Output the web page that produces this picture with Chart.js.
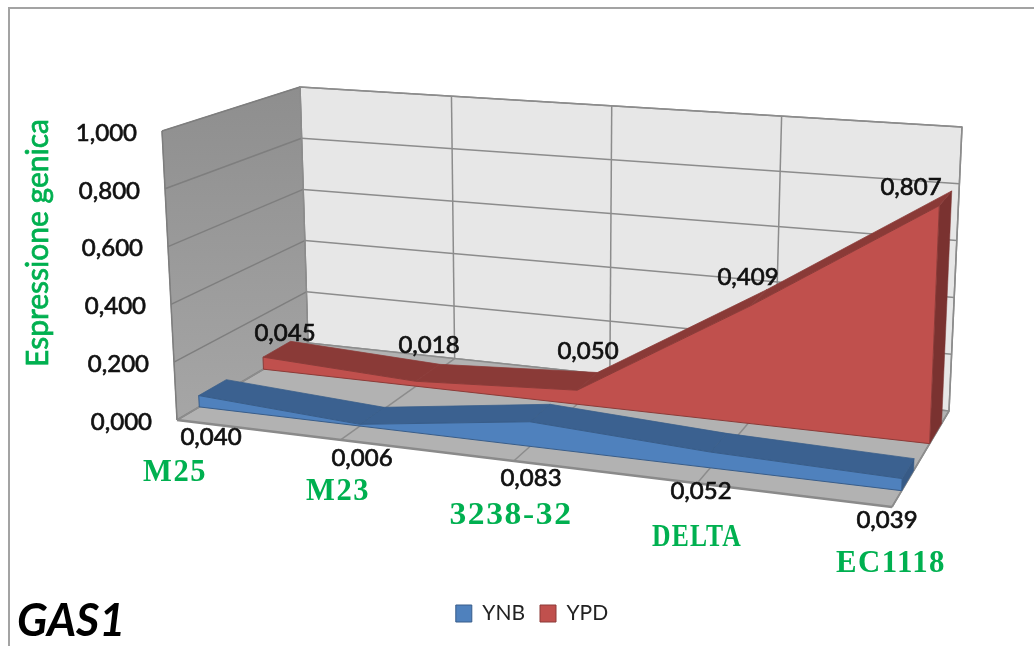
<!DOCTYPE html>
<html>
<head>
<meta charset="utf-8">
<title>GAS1</title>
<script src="https://cdn.jsdelivr.net/npm/chart.js@4"></script>
<style>
  html, body { margin: 0; background: #fff; }
  canvas { display: block; }
</style>
</head>
<body>
<canvas id="chart" width="1034" height="646"></canvas>
<script>
// Expression values, one per strain
const categories = ['M25', 'M23', '3238-32', 'DELTA', 'EC1118'];
const ynb = [0.040, 0.006, 0.083, 0.052, 0.039];
const ypd = [0.045, 0.018, 0.050, 0.409, 0.807];
const valueTicks = [0, 0.2, 0.4, 0.6, 0.8, 1];

// Box corners on screen: floor and ceiling, ordered front-left, front-right, back-right, back-left
const FLOOR = [[177, 420], [892, 507], [949, 411], [308, 343]];
const CEILING = [[162, 131], [902, 191], [962, 127], [300, 87]];
const YNB_DEPTH = [0.17, 0.38];
const YPD_DEPTH = [0.66, 0.87];
const FORESHORTEN = 0.89;

const COLORS = {
  ynbFront: '#4F81BD', ynbTop: '#3B6190', ynbSide: '#375A86', ynbEdge: '#385D8A',
  ypdFront: '#C0504D', ypdTop: '#8A3A37', ypdSide: '#7A3230', ypdEdge: '#8C3B38',
  backWall: '#E7E7E7', floor: '#B2B2B2', grid: '#8C8C8C', green: '#00B050', text: '#111'
};

const lastCat = categories.length - 1;

function quadAt(q, u, v) {
  const fx = q[0][0] + (q[1][0] - q[0][0]) * u, fy = q[0][1] + (q[1][1] - q[0][1]) * u;
  const bx = q[3][0] + (q[2][0] - q[3][0]) * u, by = q[3][1] + (q[2][1] - q[3][1]) * u;
  return [fx + (bx - fx) * v, fy + (by - fy) * v];
}

// category index + value + depth -> scene point for the chart's x/y scales
function project(cat, value, depth) {
  const t = cat / lastCat;
  const u = t * FORESHORTEN / (1 + (FORESHORTEN - 1) * t);
  const lo = quadAt(FLOOR, u, depth), hi = quadAt(CEILING, u, depth);
  return { x: lo[0] + (hi[0] - lo[0]) * value, y: lo[1] + (hi[1] - lo[1]) * value };
}

function poly(points, fill, edge, width, label) {
  return {
    label: label || '',
    data: points.concat(points[0]),
    showLine: true,
    fill: 'shape',
    backgroundColor: fill,
    borderColor: edge || fill,
    borderWidth: width === undefined ? 1 : width,
    pointRadius: 0,
    tension: 0
  };
}

function gridLine(a, b, color, width) {
  return {
    label: '',
    data: [a, b],
    showLine: true,
    fill: false,
    borderColor: color || COLORS.grid,
    borderWidth: width || 1.5,
    pointRadius: 0,
    tension: 0
  };
}

// One ribbon: front face first so it stays above its top faces
function ribbon(name, values, depth, front, top, side, edge) {
  const [d0, d1] = depth;
  const sets = [];
  const frontPts = values.map((v, i) => project(i, v, d0));
  const basePts = values.map((v, i) => project(i, 0, d0)).reverse();
  sets.push(poly(frontPts.concat(basePts), front, edge, 1, name));
  for (let i = 0; i < lastCat; i++) {
    sets.push(poly([
      project(i, values[i], d0), project(i + 1, values[i + 1], d0),
      project(i + 1, values[i + 1], d1), project(i, values[i], d1)
    ], top, edge, 0.75));
  }
  sets.push(poly([
    project(lastCat, values[lastCat], d0), project(lastCat, values[lastCat], d1),
    project(lastCat, 0, d1), project(lastCat, 0, d0)
  ], side, side, 0.5));
  return sets;
}

const canvas = document.getElementById('chart');
const ctx = canvas.getContext('2d');
const leftWallFill = ctx.createLinearGradient(0, 87, 0, 420);
leftWallFill.addColorStop(0, '#8E8E8E');
leftWallFill.addColorStop(1, '#A6A6A6');

// Chart.js paints the first dataset last, so these run front to back
const datasets = [
  ...ribbon('YNB', ynb, YNB_DEPTH, COLORS.ynbFront, COLORS.ynbTop, COLORS.ynbSide, COLORS.ynbEdge),
  ...ribbon('YPD', ypd, YPD_DEPTH, COLORS.ypdFront, COLORS.ypdTop, COLORS.ypdSide, COLORS.ypdEdge)
];
datasets.push(gridLine(project(0, 0, 0), project(lastCat, 0, 0), '#8A8A8A', 2.5));
categories.forEach((c, i) => {
  datasets.push(gridLine(project(i, 0, 0), project(i, 0, 1)));
  datasets.push(gridLine(project(i, 0, 1), project(i, 1, 1)));
});
valueTicks.forEach(t => {
  datasets.push(gridLine(project(0, t, 1), project(lastCat, t, 1)));
  datasets.push(gridLine(project(0, t, 0), project(0, t, 1), '#7E7E7E'));
});
datasets.push(gridLine(project(0, 0, 0), project(0, 1, 0), '#7E7E7E'));
datasets.push(gridLine(project(lastCat, 0, 0), project(lastCat, 0, 1), '#8C8C8C'));
datasets.push(poly([project(0, 0, 0), project(lastCat, 0, 0), project(lastCat, 0, 1), project(0, 0, 1)], COLORS.floor, COLORS.floor));
datasets.push(poly([project(0, 0, 0), project(0, 1, 0), project(0, 1, 1), project(0, 0, 1)], leftWallFill, '#8A8A8A'));
datasets.push(poly([project(0, 0, 1), project(0, 1, 1), project(lastCat, 1, 1), project(lastCat, 0, 1)], COLORS.backWall, COLORS.grid, 1.5));

const fmt = v => v.toFixed(3).replace('.', ',');

// Where the value labels sit next to their points
const ynbLabelPos = [[211, 437], [362, 458], [531, 478], [701, 491], [887, 520]];
const ypdLabelPos = [[285, 333], [429, 345], [588, 351], [748, 277], [911, 187]];
const catLabelPos = [[175, 473], [338, 492], [511, 516], [697, 538], [891, 564]];
const catLabelWidth = [58, 58, 112, 82, 100];

// Thin outline on top of the fill gives the labels a little more weight
function heavyText(c, text, x, y) {
  c.fillText(text, x, y);
  c.strokeText(text, x, y);
}

// Keep the hidden scales one to one with the canvas whatever the legend takes
const sceneScale = {
  id: 'sceneScale',
  afterLayout(chart) {
    const { x, y } = chart.scales;
    x.min = chart.chartArea.left;
    x.max = chart.chartArea.right;
    y.min = chart.chartArea.top;
    y.max = chart.chartArea.bottom;
    x.configure();
    y.configure();
  }
};

const chartText = {
  id: 'chartText',
  beforeDraw(chart) {
    const c = chart.ctx;
    c.save();
    c.strokeStyle = '#A3A3A3';
    c.lineWidth = 2;
    c.beginPath();
    c.moveTo(9, 646);
    c.lineTo(9, 8);
    c.lineTo(1034, 8);
    c.stroke();
    c.restore();
  },
  afterDraw(chart) {
    const c = chart.ctx;
    const sx = chart.scales.x, sy = chart.scales.y;
    c.save();
    c.textBaseline = 'middle';
    c.fillStyle = COLORS.text;
    c.strokeStyle = COLORS.text;
    c.lineWidth = 0.7;
    c.font = '24px Lato';

    c.textAlign = 'right';
    valueTicks.forEach(t => {
      const p = project(0, t, 0);
      heavyText(c, fmt(t), sx.getPixelForValue(p.x) - 25, sy.getPixelForValue(p.y) + 2);
    });

    c.textAlign = 'center';
    ynb.forEach((v, i) => heavyText(c, fmt(v), ynbLabelPos[i][0], ynbLabelPos[i][1]));
    ypd.forEach((v, i) => heavyText(c, fmt(v), ypdLabelPos[i][0], ypdLabelPos[i][1]));

    c.fillStyle = COLORS.green;
    c.strokeStyle = COLORS.green;
    c.font = 'bold 31px "Liberation Serif"';
    c.letterSpacing = '1.5px';
    categories.forEach((name, i) => {
      c.save();
      c.translate(catLabelPos[i][0], catLabelPos[i][1]);
      c.scale(1.1, 1);
      c.fillText(name, 0, 0, catLabelWidth[i]);
      c.restore();
    });
    c.letterSpacing = '0px';

    c.save();
    c.translate(38, 243);
    c.rotate(-Math.PI / 2);
    c.font = '30px Lato';
    heavyText(c, 'Espressione genica', 0, 0);
    c.restore();

    c.textAlign = 'left';
    c.fillStyle = '#000';
    c.font = 'italic bold 45px Lato';
    c.fillText('GAS1', 17, 621);
    c.restore();
  }
};

new Chart(canvas, {
  type: 'scatter',
  data: { datasets },
  plugins: [sceneScale, chartText],
  options: {
    responsive: false,
    animation: false,
    layout: { padding: { left: 30, bottom: 12 } },
    scales: {
      x: { type: 'linear', display: false, min: 30, max: 1034 },
      y: { type: 'linear', display: false, min: 0, max: 585, reverse: true }
    },
    plugins: {
      tooltip: { enabled: false },
      legend: {
        position: 'bottom',
        labels: {
          boxWidth: 16,
          boxHeight: 17,
          padding: 15,
          color: '#222',
          font: { family: 'Lato', size: 21 },
          filter: item => item.text !== ''
        }
      }
    }
  }
});
</script>
</body>
</html>
